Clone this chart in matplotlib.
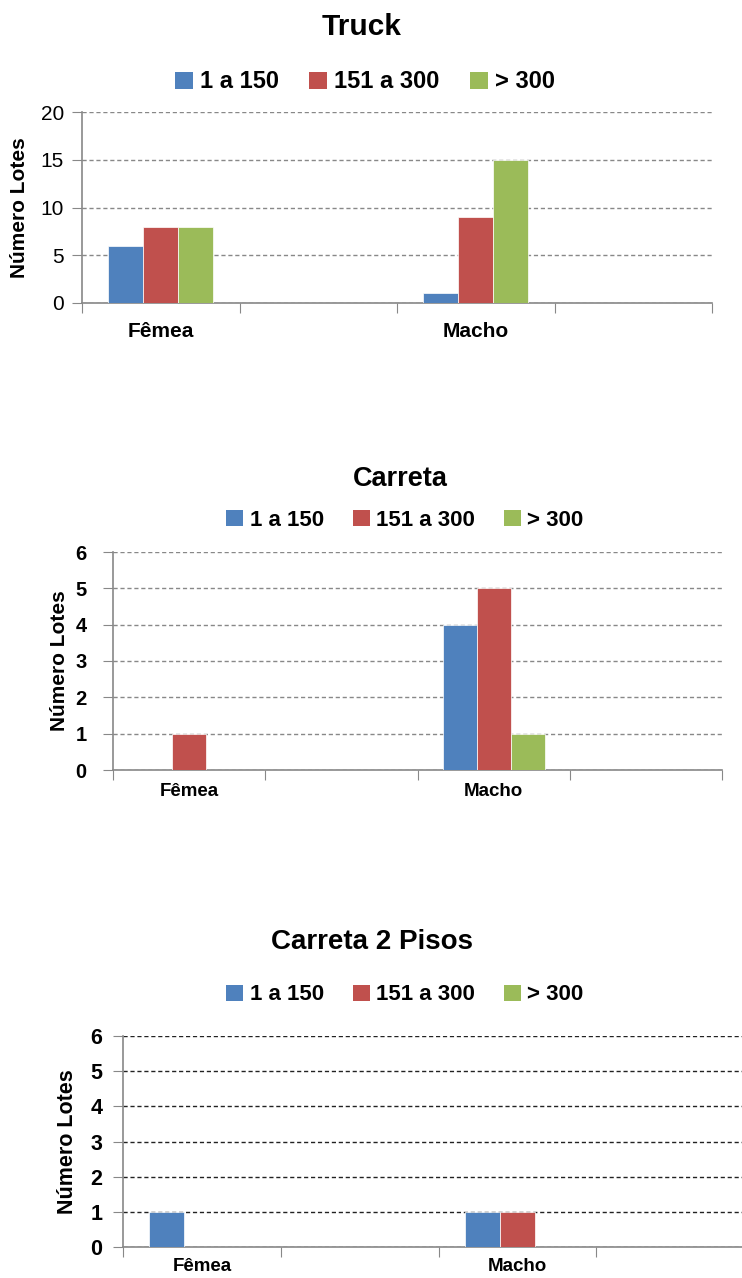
"""Lotes por faixa de tamanho, por tipo de veículo e sexo."""
import numpy
from matplotlib import pyplot as plt
from matplotlib.patches import Patch
from matplotlib.transforms import blended_transform_factory

plt.rcParams['font.family'] = ['Liberation Sans', 'DejaVu Sans']

categories = ['Fêmea', '', 'Macho', '']
series_labels = ['1 a 150', '151 a 300', '> 300']
series_colors = ['#4F81BD', '#C0504D', '#9BBB59']

truck_1_150 = [6, 0, 1, 0]
truck_151_300 = [8, 0, 9, 0]
truck_300 = [8, 0, 15, 0]

carreta_1_150 = [0, 0, 4, 0]
carreta_151_300 = [1, 0, 5, 0]
carreta_300 = [0, 0, 1, 0]

carreta2_1_150 = [1, 0, 1, 0]
carreta2_151_300 = [0, 0, 1, 0]
carreta2_300 = [0, 0, 0, 0]

truck_yticks = [0, 5, 10, 15, 20]
carreta_yticks = [0, 1, 2, 3, 4, 5, 6]


def plot_panel(fig, rect, series, yticks, title, title_xy, title_size,
               legend_xy, legend_size, tick_size, tick_weight, tick_pad,
               label_size, ylabel_x, cat_size, cat_pad, grid_color):
    """Draw one grouped bar panel with its title and legend."""
    axis = fig.add_axes(rect)
    x = numpy.arange(len(categories))
    width = 0.223
    for i, values in enumerate(series):
        axis.bar(x + (i - 1) * width, values, width, color=series_colors[i],
                 edgecolor='white', linewidth=0.5, zorder=3)

    axis.set_xlim(-0.5, len(categories) - 0.5)
    axis.set_ylim(yticks[0], yticks[-1])
    axis.set_yticks(yticks)
    axis.set_yticklabels([str(t) for t in yticks], fontsize=tick_size,
                         fontweight=tick_weight)
    axis.set_xticks(numpy.arange(len(categories) + 1) - 0.5)
    axis.set_xticklabels([])
    axis.set_xticks(x, minor=True)
    axis.set_xticklabels(categories, minor=True, fontsize=cat_size, fontweight='bold')
    axis.tick_params(axis='x', which='major', length=7, color='#888888', direction='out')
    axis.tick_params(axis='x', which='minor', length=0, pad=cat_pad)
    axis.tick_params(axis='y', length=7, color='#888888', direction='out', pad=tick_pad)

    axis.yaxis.grid(True, linestyle=(0, (3, 2)), color=grid_color, linewidth=1, zorder=0)
    for side in ['top', 'right']:
        axis.spines[side].set_visible(False)
    for side in ['left', 'bottom']:
        axis.spines[side].set_color('#888888')
        axis.spines[side].set_linewidth(1.2)

    # label x is the right edge of the rotated text, in figure coords
    axis.set_ylabel('Número Lotes', fontsize=label_size, fontweight='bold')
    axis.yaxis.set_label_coords(
        ylabel_x, 0.5, transform=blended_transform_factory(fig.transFigure, axis.transAxes))

    fig.text(title_xy[0], title_xy[1], title, fontsize=title_size,
             fontweight='bold', ha='center', va='center')

    handles = [Patch(facecolor=c, edgecolor='none') for c in series_colors]
    fig.legend(handles, series_labels, loc='center', bbox_to_anchor=legend_xy,
               ncol=3, frameon=False, handlelength=0.75, handleheight=0.75,
               handletextpad=0.3, columnspacing=1.3,
               prop={'size': legend_size, 'weight': 'bold'})
    return axis


W, H = 742, 1278
fig = plt.figure(figsize=(W / 100, H / 100), dpi=100)

plot_panel(fig, [82 / W, 1 - 303 / H, 630 / W, 191 / H],
           [truck_1_150, truck_151_300, truck_300], truck_yticks,
           'Truck', (362 / W, 1 - 27 / H), 21.5,
           (365 / W, 1 - 82 / H), 17, 15, 'normal', 6,
           15, 29 / W, 15, 14, '#888888')

plot_panel(fig, [113 / W, 1 - 770 / H, 609 / W, 218 / H],
           [carreta_1_150, carreta_151_300, carreta_300], carreta_yticks,
           'Carreta', (400 / W, 1 - 479 / H), 19.5,
           (405 / W, 1 - 520 / H), 16, 14.5, 'bold', 12,
           15, 69 / W, 13.5, 9, '#888888')

plot_panel(fig, [123 / W, 1 - 1247 / H, 631 / W, 211 / H],
           [carreta2_1_150, carreta2_151_300, carreta2_300], carreta_yticks,
           'Carreta 2 Pisos', (372 / W, 1 - 942 / H), 20,
           (405 / W, 1 - 995 / H), 16, 15.5, 'bold', 8,
           15.5, 78 / W, 13.5, 8, '#222222')

fig.savefig('out.png', dpi=100)
